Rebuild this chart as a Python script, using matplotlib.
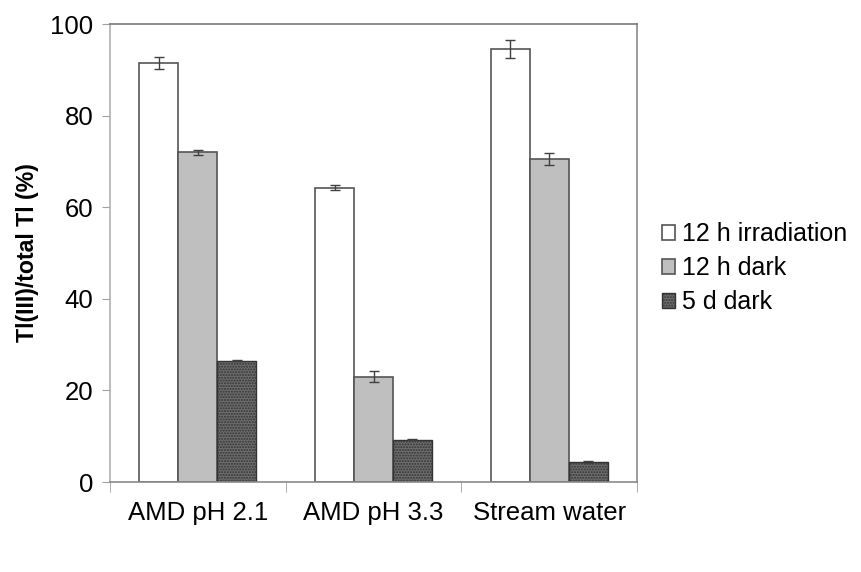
import matplotlib.pyplot as plt
import numpy as np

plt.rcParams['font.family'] = ['Liberation Sans', 'DejaVu Sans']

# data
sites = ["AMD pH 2.1", "AMD pH 3.3", "Stream water"]
series = ["12 h irradiation", "12 h dark", "5 d dark"]
irradiation = [91.5, 64.3, 94.5]
irradiation_err = [1.3, 0.6, 2.0]
dark_12h = [72.0, 23.0, 70.5]
dark_12h_err = [0.5, 1.2, 1.3]
dark_5d = [26.5, 9.2, 4.4]
dark_5d_err = [0.15, 0.1, 0.15]

fig = plt.figure(figsize=(8.61, 5.72), dpi=100)
ax = fig.add_axes([0.1278, 0.1573, 0.612, 0.8007])

x = np.arange(len(sites))
w = 0.222
edge = "#555555"
err_kw = dict(ecolor="#404040", elinewidth=1, capsize=3.5, capthick=1)

ax.bar(x - w, irradiation, w, yerr=irradiation_err, color="white",
       edgecolor=edge, linewidth=1.2, label=series[0], error_kw=err_kw)
ax.bar(x, dark_12h, w, yerr=dark_12h_err, color="#bfbfbf",
       edgecolor=edge, linewidth=1.2, label=series[1], error_kw=err_kw)
ax.bar(x + w, dark_5d, w, yerr=dark_5d_err, color="#6e6e6e",
       edgecolor="#333333", linewidth=1.0, hatch="......", label=series[2],
       error_kw=err_kw)

ax.set_xlim(-0.5, 2.5)
ax.set_ylim(0, 100)
ax.set_yticks([0, 20, 40, 60, 80, 100])
ax.set_xticks(x)
ax.set_xticklabels(sites)
ax.set_xticks([-0.5, 0.5, 1.5, 2.5], minor=True)
ax.tick_params(axis="x", which="major", length=0, labelsize=18.5, pad=14)
ax.tick_params(axis="x", which="minor", length=7, color="#a0a0a0", direction="out")
ax.tick_params(axis="y", length=6, color="#a0a0a0", labelsize=18.5, pad=6)

ax.spines["left"].set_color("#b0b0b0")
ax.spines["bottom"].set_color("#8a8a8a")
ax.spines["top"].set_color("#7a7a7a")
ax.spines["right"].set_color("#8a8a8a")
for s in ax.spines.values():
    s.set_linewidth(1.2)

ax.set_ylabel("Tl(III)/total Tl (%)", fontsize=16.7, fontweight="bold", labelpad=8)

ax.legend(loc="center left", bbox_to_anchor=(1.028, 0.467), frameon=False,
          fontsize=18, handlelength=0.55, handleheight=0.55,
          handletextpad=0.25, labelspacing=0.4, borderaxespad=0)

fig.savefig("out.png", dpi=100)
